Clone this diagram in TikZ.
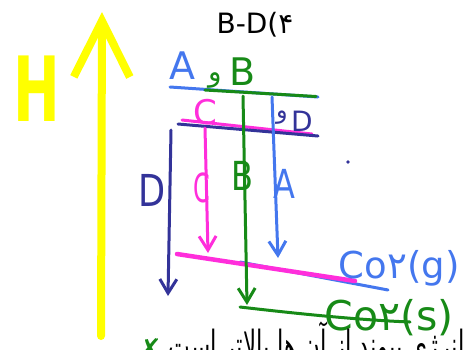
\documentclass[tikz,border=0pt]{standalone}
\usepackage{fontspec}
\setmainfont{DejaVu Sans}
\newfontfamily\farsi[Script=Arabic]{DejaVu Sans}
\TeXXeTstate=1
\usetikzlibrary{arrows.meta, positioning}
\definecolor{hyel}{HTML}{FFFF00}
\definecolor{lblue}{HTML}{4477EE}
\definecolor{lgreen}{HTML}{178A17}
\definecolor{lpink}{HTML}{FF2EDB}
\definecolor{lnavy}{HTML}{333399}
\newcommand{\fs}[1]{\fontsize{#1}{#1}\selectfont}

\begin{document}
\begin{tikzpicture}[x=1pt, y=-1pt, line width=3pt, line cap=round,
          hand/.style={-{Straight Barb[length=14pt, width=17pt]}}]
        \useasboundingbox (0,0) rectangle (470,349);
        % enthalpy axis
        \coordinate (hlow) at (101,336);
        \coordinate (htop) at (102,12);
        \draw[hyel, line width=8pt, -{Straight Barb[length=56pt, width=56pt]}]
              (hlow) -- (htop);
        \node[text=hyel, font=\fs{90}\bfseries, xscale=0.62] (hlabel)
              at (37,89) {H};
        \node[font=\fs{28}] (title) at (255,25) {B-D({\farsi ۴}};
        % levels
        \coordinate (abL) at (170,87);  \coordinate (abR) at (318,97);
        \coordinate (cdL) at (178,124); \coordinate (cdR) at (318,136);
        \coordinate (gL) at (177,254);  \coordinate (gR) at (388,290);
        \coordinate (sL) at (240,307);  \coordinate (sR) at (410,322);
        \draw[lblue] (abL) -- (abR);
        \draw[lgreen] (205,90) -- (316,96.5);
        \draw[lpink] (182,120) -- (312,134);
        \draw[lnavy] (cdL) -- (cdR);
        \draw[lblue] (240,262) -- (gR);
        \draw[lpink, line width=4.5pt] (gL) -- (355,281);
        \draw[lgreen] (sL) .. controls (300,314) and (360,320) .. (sR);
        % level labels
        \node[text=lblue, font=\fs{38}] (la) at (182,66) {A};
        \node[text=lgreen, font=\fs{28}\farsi] (lw1) at (215,80) {و};
        \node[text=lgreen, font=\fs{38}] (lb) at (243,72) {B};
        \node[text=lpink, font=\fs{34}] (lc) at (205,112) {C};
        \node[text=lnavy, font=\fs{24}\farsi] (lw2) at (282,118) {و};
        \node[text=lnavy, font=\fs{28}] (ld) at (302,121) {D};
        \node[text=lblue, font=\fs{37}, anchor=west] (cog) at (334,268)
              {Co{\farsi ۲}(g)};
        \node[text=lgreen, font=\fs{41}, anchor=west] (cos) at (320,318)
              {Co{\farsi ۲}(s)};
        % transitions
        \coordinate (aTop) at (272,97);  \coordinate (aEnd) at (278,258);
        \coordinate (cTop) at (205,128); \coordinate (cEnd) at (208,253);
        \coordinate (bTop) at (243,96);  \coordinate (bEnd) at (247,305);
        \coordinate (dTop) at (171,130); \coordinate (dEnd) at (168,296);
        \draw[hand, lblue] (aTop) -- (aEnd);
        \draw[hand, lpink] (cTop) -- (cEnd);
        \draw[hand, lgreen] (bTop) -- (bEnd);
        \draw[hand, lnavy] (dTop) -- (dEnd);
        \node[text=lblue, font=\fs{40}, xscale=0.8] (ta) at (284,184) {A};
        \node[text=lpink, font=\fs{40}, xscale=0.6] (tc) at (202,188) {C};
        \node[text=lgreen, font=\fs{40}, xscale=0.8] (tb) at (242,176) {B};
        \node[text=lnavy, font=\fs{44}, xscale=0.8] (td) at (152,190) {D};
        \fill[lnavy] (348,162) circle (1.8pt);
        % note, cut off at the lower edge
        \node[font=\farsi\fs{23}, yscale=1.8, anchor=base east, inner sep=0pt]
              (note) at (466,360) {\beginR انرژی پیوند از آن ها بالاتر است\endR};
        \node[text=lgreen, font=\fs{30}\bfseries, anchor=base east] (cross)
              at (note.base west) {✗};
      \end{tikzpicture}
\end{document}
